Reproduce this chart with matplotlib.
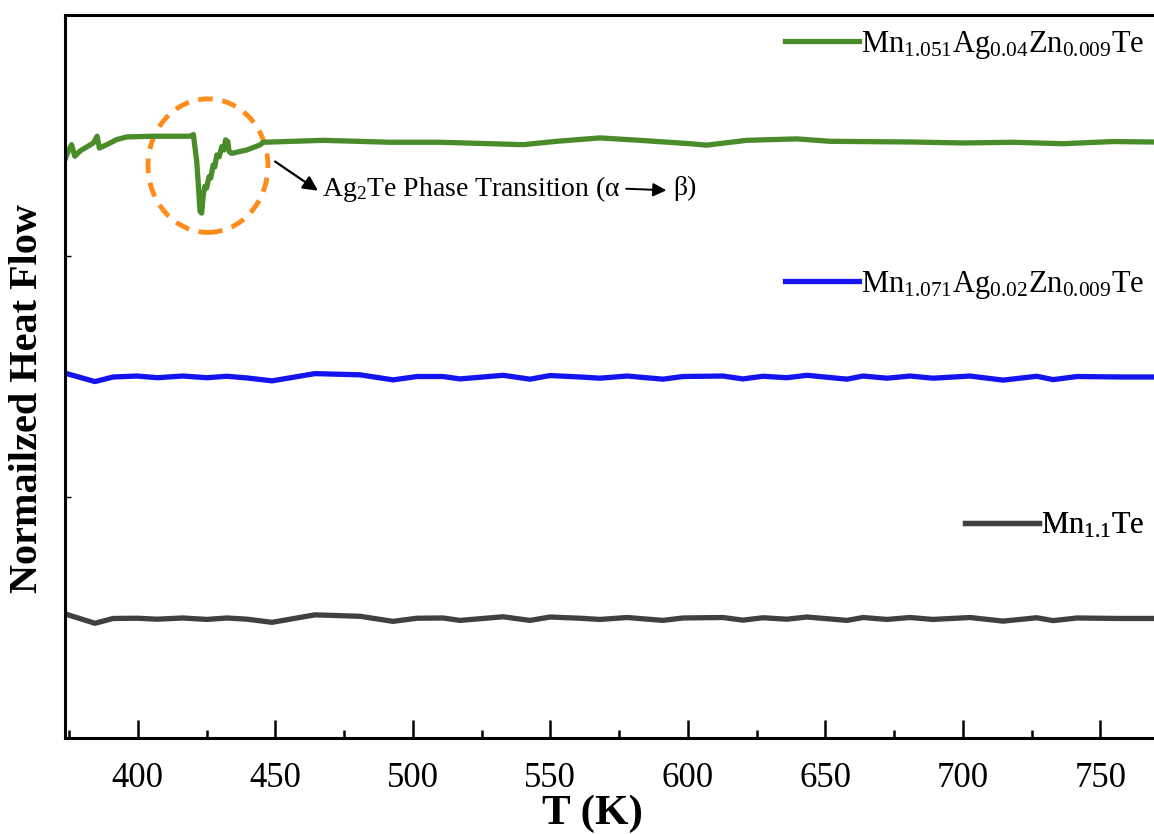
import numpy as np
import matplotlib
matplotlib.use('Agg')
import matplotlib.pyplot as plt
from matplotlib.patches import Ellipse
from matplotlib.ticker import MultipleLocator

plt.rcParams['font.family'] = ['Liberation Serif', 'DejaVu Sans']
plt.rcParams['mathtext.fontset'] = 'custom'
plt.rcParams['mathtext.rm'] = 'Liberation Serif'
plt.rcParams['mathtext.it'] = 'Liberation Serif:italic'
plt.rcParams['mathtext.bf'] = 'Liberation Serif:bold'

# --- data ---
T_green = [373.5, 374.7, 375.9, 377.1, 379.0, 383.8, 385.2, 386.0, 388.7, 392.3,
           395.9, 405.5, 419.0, 420.2, 420.8, 421.4, 422.0, 422.6, 423.2, 423.8,
           424.4, 425.0, 425.9, 426.5, 427.4, 428.0, 428.7, 429.6, 430.5, 431.3,
           431.9, 432.7, 433.2, 434.1, 439.6, 444.4, 445.6, 467.4, 491.7, 509.9,
           540.2, 552.3, 568.0, 582.6, 600.8, 606.8, 621.4, 639.6, 651.7, 682.0,
           700.2, 718.2, 736.4, 754.6, 769.5]
hf_green = [2.400, 2.435, 2.462, 2.414, 2.436, 2.469, 2.497, 2.448, 2.462, 2.483,
            2.494, 2.497, 2.497, 2.504, 2.448, 2.394, 2.295, 2.186, 2.178, 2.254,
            2.290, 2.282, 2.329, 2.323, 2.378, 2.370, 2.419, 2.412, 2.454, 2.440,
            2.482, 2.475, 2.433, 2.426, 2.440, 2.461, 2.472, 2.480, 2.472, 2.472,
            2.462, 2.476, 2.490, 2.480, 2.466, 2.460, 2.480, 2.486, 2.476, 2.473,
            2.469, 2.472, 2.466, 2.475, 2.473]

T_blue = [373.5, 384.4, 391.0, 399.7, 407.0, 416.4, 425.1, 432.4, 439.7, 448.8,
          464.4, 480.8, 492.8, 501.5, 511.0, 517.1, 532.8, 542.6, 549.9, 560.8,
          568.0, 577.9, 590.9, 598.2, 612.8, 620.0, 627.3, 636.0, 643.3, 657.9,
          663.7, 672.4, 680.8, 689.1, 702.6, 714.6, 726.9, 732.8, 741.5, 757.1,
          769.5]
hf_blue = [1.514, 1.479, 1.498, 1.502, 1.495, 1.502, 1.495, 1.501, 1.494, 1.482,
           1.512, 1.507, 1.486, 1.500, 1.500, 1.490, 1.505, 1.489, 1.504, 1.498,
           1.493, 1.502, 1.489, 1.500, 1.502, 1.490, 1.501, 1.495, 1.505, 1.489,
           1.502, 1.493, 1.502, 1.493, 1.502, 1.485, 1.501, 1.487, 1.500, 1.498,
           1.498]

T_gray = [373.5, 384.4, 391.0, 399.7, 407.0, 416.4, 425.1, 432.4, 439.7, 448.8,
          464.4, 480.8, 492.8, 501.5, 511.0, 517.1, 532.8, 542.6, 549.9, 560.8,
          568.0, 577.9, 590.9, 598.2, 612.8, 620.0, 627.3, 636.0, 643.3, 657.9,
          663.7, 672.4, 680.8, 689.1, 702.6, 714.6, 726.9, 732.8, 741.5, 757.1,
          769.5]
hf_gray = [0.515, 0.476, 0.496, 0.497, 0.493, 0.498, 0.492, 0.498, 0.493, 0.480,
           0.511, 0.505, 0.484, 0.497, 0.498, 0.488, 0.503, 0.488, 0.502, 0.497,
           0.492, 0.500, 0.488, 0.498, 0.500, 0.489, 0.499, 0.493, 0.502, 0.488,
           0.500, 0.492, 0.500, 0.492, 0.500, 0.485, 0.499, 0.487, 0.498, 0.496,
           0.496]

labels = [r'Mn$_{1.051}$Ag$_{0.04}$Zn$_{0.009}$Te',
          r'Mn$_{1.071}$Ag$_{0.02}$Zn$_{0.009}$Te',
          r'Mn$_{1.1}$Te']
colors = ['#4a8c2a', '#1414f0', '#404040']

fig = plt.figure(figsize=(11.54, 8.34), dpi=100)
ax = fig.add_axes([0.0563, 0.1151, 0.9437, 0.8669])

lines = []
for T, hf, c in zip([T_green, T_blue, T_gray], [hf_green, hf_blue, hf_gray], colors):
    ln, = ax.plot(T, hf, color=c, lw=3.8, solid_joinstyle='round')
    lines.append(ln)

ax.set_xlim(373.5, 769.5)
ax.set_ylim(0, 3.0)

# separate legend entries, each near its curve
leg_pos = [(0.991, 0.959), (0.991, 0.627), (0.991, 0.294)]
for ln, lab, pos in zip(lines, labels, leg_pos):
    lg = ax.legend([ln], [lab], loc='center right', bbox_to_anchor=pos,
                   frameon=False, fontsize=22, handlelength=2.4,
                   handletextpad=0.08, borderpad=0, borderaxespad=0)
    ax.add_artist(lg)

# phase transition marker
circ = Ellipse((425.5, 2.375), 43.6, 0.554, fill=False, ec='#ff8c1a',
               lw=3.5, ls=(0, (3.0, 2.0)))
ax.add_patch(circ)
ax.annotate('', xy=(465.5, 2.271), xytext=(449.9, 2.392),
            arrowprops=dict(arrowstyle='-|>', color='black', lw=1.6,
                            mutation_scale=22, shrinkA=0, shrinkB=0))
t1 = ax.text(467.0, 2.28, 'Ag$_2$Te Phase Transition (α', fontsize=20,
             ha='left', va='center')
ax.annotate('β)', xy=(1, 0.5), xycoords=t1, xytext=(38, 0),
            textcoords='offset points', fontsize=20, ha='left', va='center',
            arrowprops=dict(arrowstyle='<|-', color='black', lw=1.4,
                            mutation_scale=20, shrinkA=-3, shrinkB=4,
                            relpos=(0, 0.42)))

ax.xaxis.set_major_locator(MultipleLocator(50))
ax.xaxis.set_minor_locator(MultipleLocator(25))
ax.yaxis.set_major_locator(MultipleLocator(1))
ax.tick_params(axis='x', which='major', direction='in', length=13, width=1.8,
               labelsize=25, pad=17)
ax.tick_params(axis='x', which='minor', direction='in', length=6, width=1.8)
ax.tick_params(axis='y', which='major', direction='in', length=4, width=1,
               labelleft=False)
for side in ['left', 'bottom', 'top']:
    ax.spines[side].set_linewidth(2.2)
ax.spines['right'].set_visible(False)

ax.set_xlabel('T (K)', fontsize=31, fontweight='bold', va='bottom')
ax.xaxis.set_label_coords(0.484, -0.132)
ax.set_ylabel('Normailzed Heat Flow', fontsize=29, fontweight='bold')
ax.yaxis.set_label_coords(-0.017, 0.47)

fig.savefig('out.png', dpi=100)
